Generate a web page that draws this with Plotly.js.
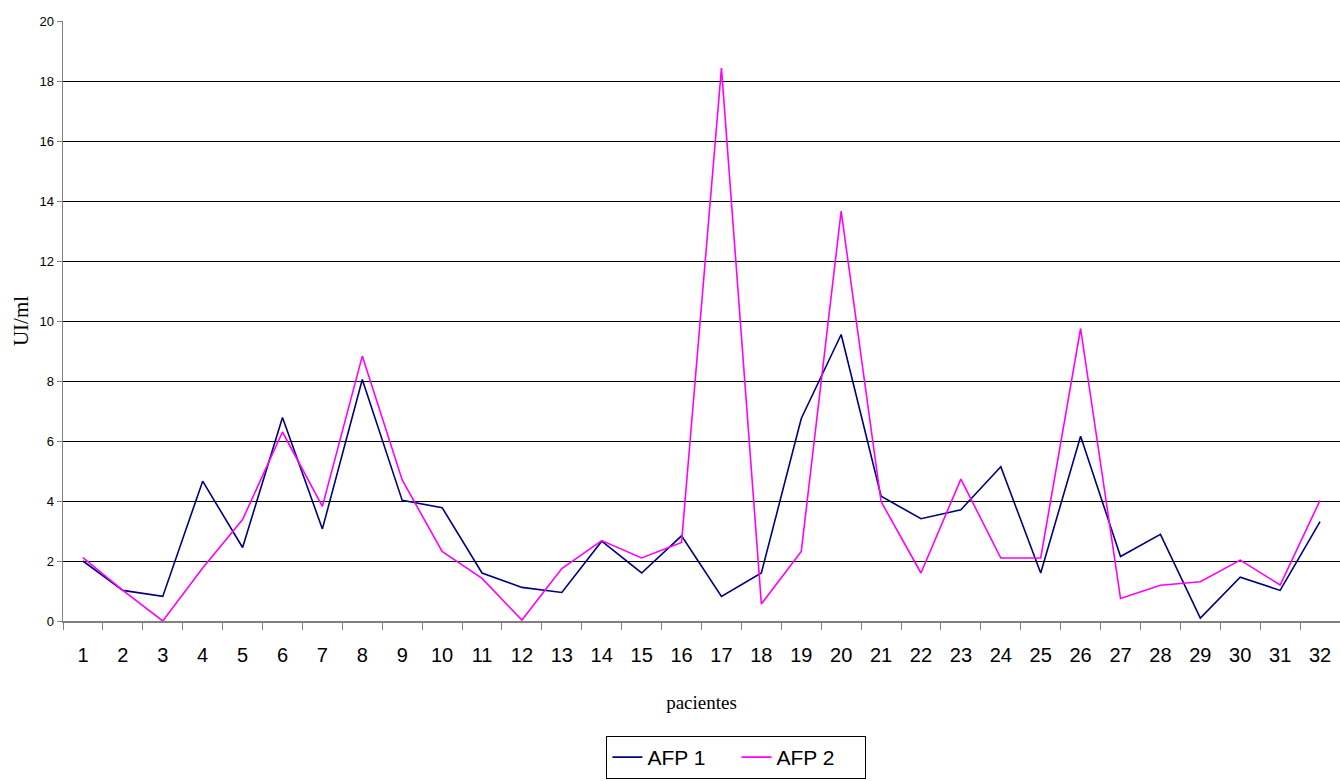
<!DOCTYPE html>
<html>
<head>
<meta charset="utf-8">
<script src="https://cdn.plot.ly/plotly-3.0.1.min.js"></script>
<style>html,body{margin:0;padding:0;background:#fff;}#chart{width:1340px;height:781px;}</style>
</head>
<body>
<div id="chart"></div>
<script>
const pacientes = ['1','2','3','4','5','6','7','8','9','10','11','12','13','14','15','16','17','18','19','20','21','22','23','24','25','26','27','28','29','30','31','32'];
const afp1 = [2.0,1.02,0.82,4.66,2.45,6.78,3.07,8.05,4.02,3.78,1.6,1.12,0.95,2.66,1.6,2.84,0.82,1.6,6.75,9.55,4.16,3.41,3.71,5.14,1.6,6.16,2.15,2.89,0.1,1.46,1.02,3.31];
const afp2 = [2.11,1.02,0.0,1.77,3.38,6.3,3.82,8.83,4.7,2.32,1.42,0.03,1.75,2.68,2.1,2.62,18.43,0.57,2.32,13.66,3.98,1.6,4.73,2.1,2.1,9.75,0.75,1.19,1.31,2.03,1.2,4.02];
const yTicks = [0,2,4,6,8,10,12,14,16,18,20];
const gridTicks = [2,4,6,8,10,12,14,16,18];

const sans = '"Liberation Sans", Arial, sans-serif';
const serif = '"Liberation Serif", "Times New Roman", serif';

const traces = [
  {x: pacientes, y: afp1, type: 'scatter', mode: 'lines', name: 'AFP 1',
   line: {color: '#000080', width: 1.6}},
  {x: pacientes, y: afp2, type: 'scatter', mode: 'lines', name: 'AFP 2',
   line: {color: '#FF00FF', width: 1.6}},
  {x: [], y: [], type: 'scatter', mode: 'lines', yaxis: 'y2', showlegend: false, hoverinfo: 'skip'}
];

const layout = {
  width: 1340, height: 781,
  margin: {l: 63, r: 0, t: 21, b: 160},
  paper_bgcolor: '#fff', plot_bgcolor: '#fff',
  showlegend: true,
  xaxis: {
    type: 'category',
    range: [-0.5, 31.5],
    tickson: 'boundaries',
    ticks: 'outside', ticklen: 7, tickcolor: '#808080', tickwidth: 1,
    ticklabelstandoff: 15,
    showline: true, linecolor: '#808080', linewidth: 1.5,
    showgrid: false, zeroline: false,
    tickfont: {family: sans, size: 20, color: '#000'},
    title: {text: 'pacientes', font: {family: serif, size: 19, color: '#000'}, standoff: 31}
  },
  yaxis: {
    range: [0, 20],
    tickmode: 'array', tickvals: yTicks,
    ticks: 'outside', ticklen: 5, tickcolor: '#808080',
    showline: true, linecolor: '#808080', linewidth: 1.5,
    showgrid: false, zeroline: false,
    tickfont: {family: sans, size: 13, color: '#000'},
    title: {text: 'UI/ml', font: {family: serif, size: 21, color: '#000'}, standoff: 5}
  },
  yaxis2: {
    overlaying: 'y', range: [0, 20],
    tickmode: 'array', tickvals: gridTicks,
    showticklabels: false, ticks: '',
    showgrid: true, gridcolor: '#000', gridwidth: 1,
    showline: false, zeroline: false
  },
  legend: {
    orientation: 'h',
    xref: 'container', yref: 'container',
    x: 0.5496, xanchor: 'center',
    y: 0.0576, yanchor: 'top',
    entrywidth: 84,
    bordercolor: '#000', borderwidth: 1,
    font: {family: sans, size: 21, color: '#000'}
  }
};

Plotly.newPlot('chart', traces, layout, {displayModeBar: false, staticPlot: true});
</script>
</body>
</html>
